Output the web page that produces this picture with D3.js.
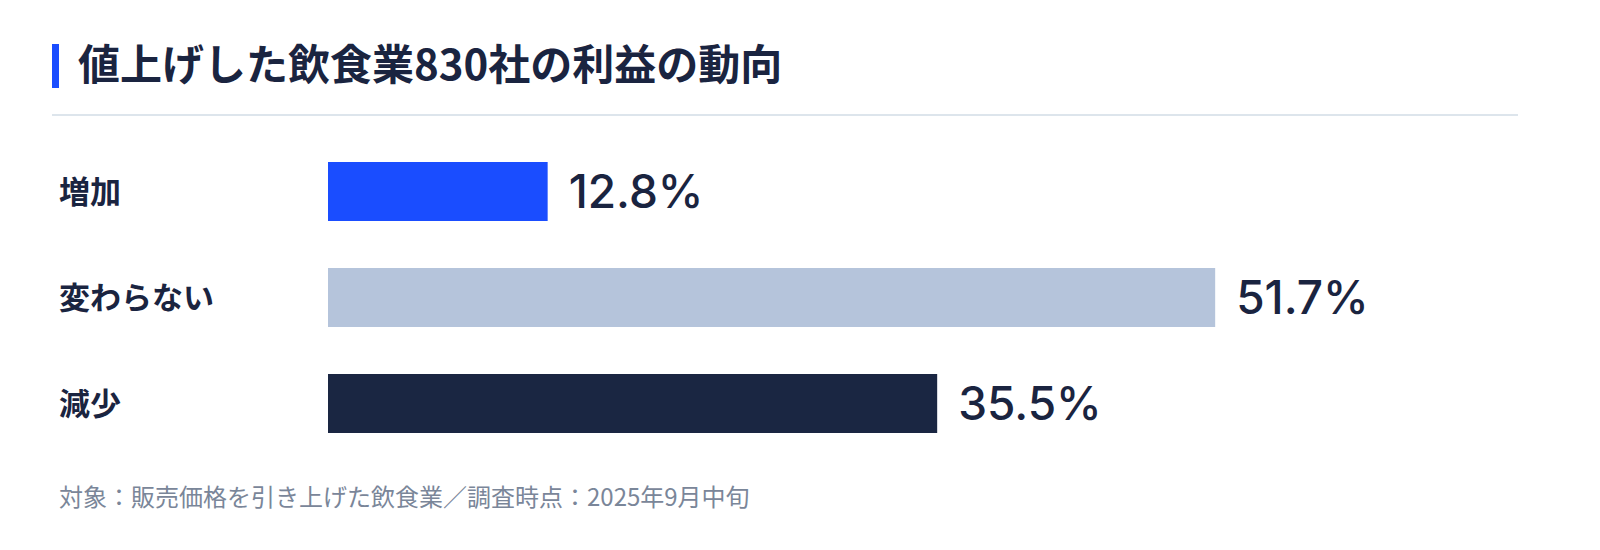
<!DOCTYPE html>
<html><head><meta charset="utf-8">
<script src="https://cdn.jsdelivr.net/npm/d3@7"></script>
<style>
body{margin:0;background:#fff;font-family:"Noto Sans CJK JP","Noto Sans",sans-serif;}
</style></head>
<body><div id="wrapper"></div>
<script>
// data
var categories = ["増加", "変わらない", "減少"];
var values = [12.8, 51.7, 35.5];
var colors = ["#1a4dff", "#b5c4db", "#1a2642"];
var title = "値上げした飲食業830社の利益の動向";
var note = "対象：販売価格を引き上げた飲食業／調査時点：2025年9月中旬";

var width = 1600, height = 550;
var svg = d3.select("#wrapper").append("svg")
    .attr("width", width).attr("height", height);

// title block
svg.append("rect").attr("x", 52).attr("y", 44).attr("width", 7).attr("height", 44).attr("fill", "#1a4dff");
svg.append("text").text(title)
    .attr("x", 78).attr("y", 80)
    .attr("font-size", 42).attr("font-weight", 700).attr("fill", "#1a2440");
svg.append("line").attr("x1", 52).attr("x2", 1518).attr("y1", 115).attr("y2", 115)
    .attr("stroke", "#dde5ec").attr("stroke-width", 2);

var x = d3.scaleLinear().domain([0, 100]).range([328, 328 + 1716]);
var y = d3.scaleBand().domain(categories).range([162, 433]).paddingInner(47 / 106).paddingOuter(0);

var rows = svg.selectAll("g.row")
    .data(categories.map(function(c, i) { return {name: c, value: values[i], color: colors[i]}; }))
    .enter().append("g").attr("class", "row");

rows.append("rect")
    .attr("x", x(0))
    .attr("y", function(d) { return y(d.name); })
    .attr("width", function(d) { return x(d.value) - x(0); })
    .attr("height", y.bandwidth())
    .attr("fill", function(d) { return d.color; });

rows.append("text").text(function(d) { return d.name; })
    .attr("x", 59)
    .attr("y", function(d) { return y(d.name) + y.bandwidth() / 2 + 11; })
    .attr("font-size", 31).attr("font-weight", 700).attr("fill", "#1a2440");

rows.append("text").text(function(d) { return d.value.toFixed(1) + "%"; })
    .attr("x", function(d) { return x(d.value) + 21; })
    .attr("y", function(d) { return y(d.name) + y.bandwidth() / 2 + 16; })
    .attr("font-family", "Inter, 'Noto Sans', sans-serif")
    .attr("font-size", 46).attr("font-weight", 500).attr("fill", "#1a2440");

svg.append("text").text(note)
    .attr("x", 59).attr("y", 506)
    .attr("font-size", 24).attr("fill", "#7a8699");
</script>
</body></html>
